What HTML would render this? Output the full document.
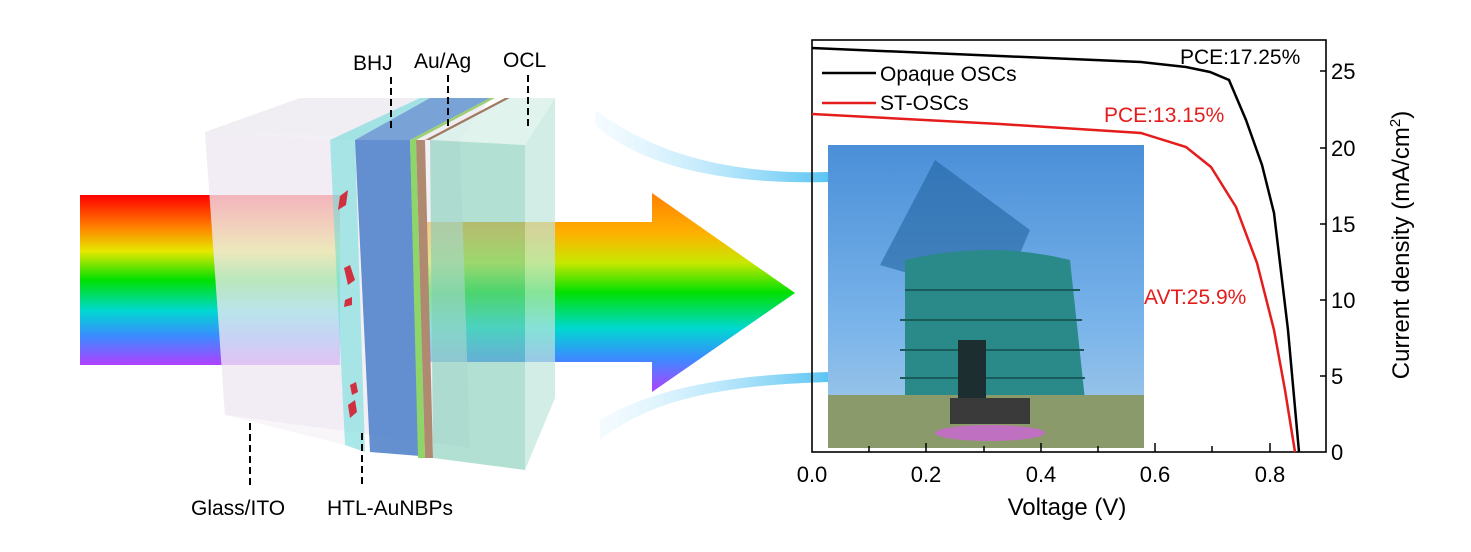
<!DOCTYPE html>
<html><head><meta charset="utf-8"><style>
html,body{margin:0;padding:0;background:#fff;}
svg{display:block;font-family:"Liberation Sans",Arial,sans-serif;}
</style></head><body>
<svg width="1471" height="552" viewBox="0 0 1471 552" xmlns="http://www.w3.org/2000/svg">
<defs>
<linearGradient id="rb" x1="0" y1="0" x2="0" y2="1">
<stop offset="0" stop-color="#ff0000"/><stop offset="0.18" stop-color="#ff7a00"/>
<stop offset="0.33" stop-color="#e8e800"/><stop offset="0.5" stop-color="#00e000"/>
<stop offset="0.68" stop-color="#00d8d0"/><stop offset="0.83" stop-color="#3a8cff"/>
<stop offset="1" stop-color="#b040ff"/></linearGradient>
<linearGradient id="rb2" gradientUnits="userSpaceOnUse" x1="0" y1="193" x2="0" y2="392">
<stop offset="0" stop-color="#ff8000"/><stop offset="0.2" stop-color="#ffb000"/>
<stop offset="0.35" stop-color="#c8e800"/><stop offset="0.5" stop-color="#00e000"/>
<stop offset="0.68" stop-color="#00d8d0"/><stop offset="0.83" stop-color="#3a8cff"/>
<stop offset="1" stop-color="#b040ff"/></linearGradient>
<linearGradient id="sky" x1="0" y1="0" x2="0" y2="1">
<stop offset="0" stop-color="#4a8fd8"/><stop offset="0.6" stop-color="#7ab4ea"/><stop offset="1" stop-color="#a9cde8"/></linearGradient>
<linearGradient id="beam" x1="0" y1="0" x2="1" y2="0">
<stop offset="0" stop-color="#bfe9ff" stop-opacity="0.2"/><stop offset="1" stop-color="#2fb6f0"/></linearGradient>
</defs>
<path d="M595,110 C650,150 720,175 830,172 L830,182 C720,185 640,165 595,125Z" fill="url(#beam)" opacity="0.8"/>
<path d="M600,420 C650,390 720,375 830,372 L830,382 C720,385 650,400 600,440Z" fill="url(#beam)" opacity="0.8"/>
<rect x="80" y="195" width="260" height="170" fill="url(#rb)"/>
<polygon points="420,222 652,222 652,193 795,293 652,392 652,362 420,362" fill="url(#rb2)"/>
<polygon points="205,132 300,98 490,98 460,140" fill="#ece8f0" opacity="0.8"/>
<polygon points="205,132 460,140 470,448 225,415" fill="#e9e5ef" opacity="0.6"/>
<polygon points="330,140 420,98 430,98 355,140 " fill="#8fdde0" opacity="0.8"/>
<polygon points="330,140 355,140 365,452 345,445" fill="#8ce0e0" opacity="0.75"/>
<polygon points="355,140 430,98 490,98 410,140" fill="#5b8fd0" opacity="0.8"/>
<polygon points="355,140 410,140 420,456 370,452" fill="#4a7cc8" opacity="0.85"/>
<polygon points="410,140 490,98 495,98 416,140" fill="#9ad070"/>
<polygon points="410,140 416,140 425,458 418,458" fill="#8fd66a"/>
<polygon points="416,140 425,140 433,458 425,458" fill="#b08a70"/>
<polygon points="425,140 505,98 510,98 430,140" fill="#a07a60"/>
<polygon points="430,140 510,98 555,98 525,145" fill="#d8f0e8" opacity="0.8"/>
<polygon points="430,140 525,145 525,470 433,458" fill="#7fcdb8" opacity="0.6"/>
<polygon points="525,145 555,98 555,398 525,470" fill="#bfe5da" opacity="0.7"/>
<polygon points="205,132 330,140 345,445 225,415" fill="#f1ecf4" opacity="0.45"/>
<g fill="#d03040">
<polygon points="340,196 348,190 346,205 338,210"/><polygon points="344,268 350,265 355,280 348,285"/>
<polygon points="345,300 352,297 352,305 344,307"/><polygon points="350,385 356,382 358,392 352,395"/>
<polygon points="348,405 355,400 357,412 350,418"/>
</g>
<g font-size="21" fill="#000">
<text x="353" y="70">BHJ</text><text x="414" y="68">Au/Ag</text><text x="503" y="67">OCL</text>
<text x="191" y="515">Glass/ITO</text><text x="327" y="515">HTL-AuNBPs</text>
</g>
<g stroke="#000" stroke-width="2" stroke-dasharray="7,4">
<line x1="391" y1="77" x2="391" y2="128"/><line x1="448" y1="75" x2="448" y2="128"/>
<line x1="528" y1="75" x2="528" y2="128"/>
<line x1="250" y1="423" x2="250" y2="485"/><line x1="362" y1="433" x2="362" y2="485"/>
</g>
<rect x="828" y="145" width="316" height="303" fill="url(#sky)"/>
<polygon points="935,160 1030,230 1000,300 880,265" fill="#1e5e9a" opacity="0.55"/>
<path d="M905,260 Q990,240 1070,260 L1085,400 L905,400Z" fill="#2a8a8a"/>
<g stroke="#1a5a5a" stroke-width="2"><line x1="905" y1="290" x2="1080" y2="290"/><line x1="900" y1="320" x2="1082" y2="320"/><line x1="900" y1="350" x2="1084" y2="350"/><line x1="900" y1="378" x2="1085" y2="378"/></g>
<rect x="828" y="395" width="316" height="53" fill="#8a9a6a"/>
<rect x="958" y="340" width="28" height="60" fill="#1c2e30"/>
<rect x="950" y="398" width="80" height="26" fill="#3a3a3a"/>
<ellipse cx="990" cy="433" rx="55" ry="8" fill="#c070c0"/>
<rect x="812" y="40" width="514" height="412" fill="none" stroke="#000" stroke-width="1.6"/>
<g stroke="#000" stroke-width="1.5">
<line x1="869" y1="452" x2="869" y2="446"/><line x1="926" y1="452" x2="926" y2="443"/><line x1="984" y1="452" x2="984" y2="446"/><line x1="1041" y1="452" x2="1041" y2="443"/><line x1="1098" y1="452" x2="1098" y2="446"/><line x1="1155" y1="452" x2="1155" y2="443"/><line x1="1212" y1="452" x2="1212" y2="446"/><line x1="1270" y1="452" x2="1270" y2="443"/>
<line x1="1326" y1="376" x2="1320" y2="376"/><line x1="1326" y1="300" x2="1320" y2="300"/><line x1="1326" y1="224" x2="1320" y2="224"/><line x1="1326" y1="148" x2="1320" y2="148"/><line x1="1326" y1="71" x2="1320" y2="71"/>
</g>
<g font-size="22" fill="#000">
<text x="812" y="482" text-anchor="middle">0.0</text><text x="926" y="482" text-anchor="middle">0.2</text><text x="1041" y="482" text-anchor="middle">0.4</text><text x="1155" y="482" text-anchor="middle">0.6</text><text x="1270" y="482" text-anchor="middle">0.8</text>
<text x="1331" y="460">0</text><text x="1331" y="384">5</text><text x="1331" y="308">10</text><text x="1331" y="232">15</text><text x="1331" y="156">20</text><text x="1331" y="79">25</text>
<text x="1067" y="515" text-anchor="middle" font-size="24">Voltage (V)</text>
<text transform="translate(1409,245) rotate(-90)" text-anchor="middle" font-size="24">Current density (mA/cm<tspan dy="-9" font-size="15">2</tspan><tspan dy="9">)</tspan></text>
</g>
<path d="M812,48 L1000,56 L1141,62 L1186,67 L1210,72 L1229,80 L1246,120 L1262,165 L1274,213 L1288,330 L1299,452" fill="none" stroke="#000" stroke-width="2.5"/>
<path d="M812,114 L1000,124 L1141,133 L1186,147 L1211,167 L1236,207 L1257,263 L1274,330 L1285,390 L1295,452" fill="none" stroke="#e51c1c" stroke-width="2.5"/>
<line x1="822" y1="73" x2="876" y2="73" stroke="#000" stroke-width="2.5"/>
<line x1="822" y1="103" x2="876" y2="103" stroke="#e51c1c" stroke-width="2.5"/>
<g font-size="21"><text x="880" y="81">Opaque OSCs</text><text x="880" y="110">ST-OSCs</text>
<text x="1180" y="64">PCE:17.25%</text>
<text x="1104" y="122" fill="#e51c1c">PCE:13.15%</text>
<text x="1144" y="304" fill="#e51c1c">AVT:25.9%</text></g>
</svg>
</body></html>
